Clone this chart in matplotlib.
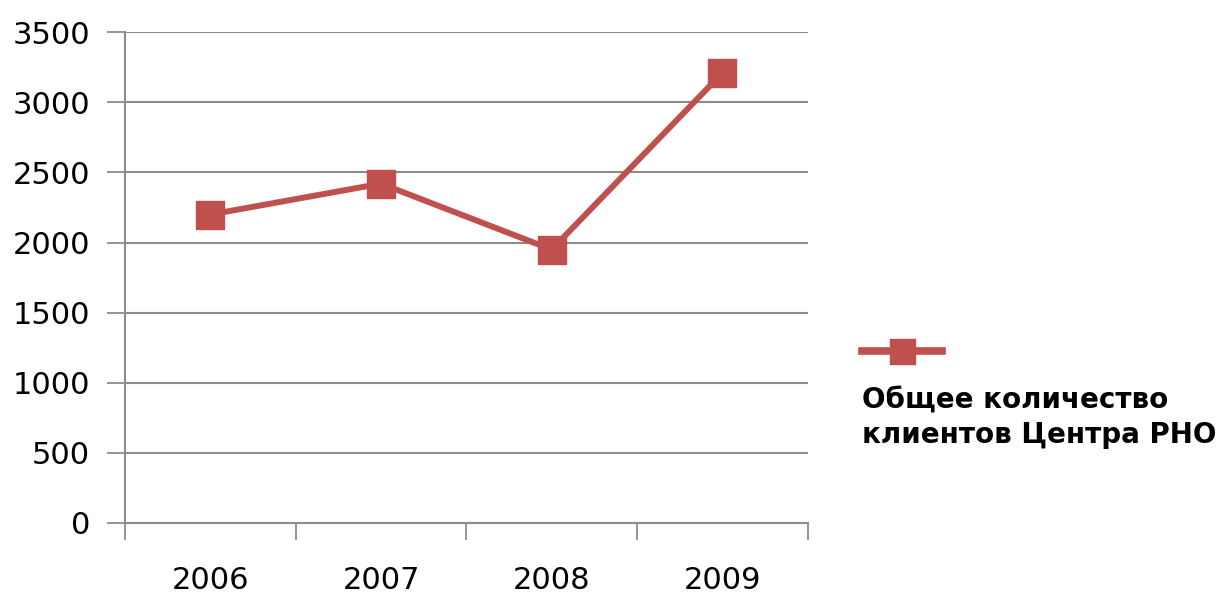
import matplotlib
matplotlib.use("Agg")
import matplotlib.pyplot as plt
from matplotlib.lines import Line2D

years = ["2006", "2007", "2008", "2009"]
clients = [2200, 2420, 1950, 3210]
label = "Общее количество\nклиентов Центра РНО"

color = "#C0504D"
grid_c = "#8c8c8c"

fig = plt.figure(figsize=(12.22, 5.97), dpi=100)
ax = fig.add_axes([0.1023, 0.124, 0.5587, 0.822])

x = list(range(len(years)))
ax.plot(x, clients, color=color, lw=4.3, marker="s", ms=20,
        markeredgecolor=color, markerfacecolor=color, zorder=3)

ax.set_ylim(0, 3500)
ax.set_yticks(range(0, 3501, 500))
ax.set_xlim(-0.5, len(years) - 0.5)

# tick marks on category boundaries, labels in between
ax.set_xticks([i - 0.5 for i in range(len(years) + 1)])
ax.set_xticklabels([])
ax.set_xticks(x, minor=True)
ax.set_xticklabels(years, minor=True)
ax.tick_params(axis="x", which="major", length=12, width=1.3, color=grid_c)
ax.tick_params(axis="x", which="minor", length=0, pad=31, labelsize=22)
ax.tick_params(axis="y", length=13, width=1.3, color=grid_c, pad=12, labelsize=22)

ax.grid(axis="y", color=grid_c, lw=1.5)
ax.set_axisbelow(True)
for s in ["top", "right"]:
    ax.spines[s].set_visible(False)
for s in ["left", "bottom"]:
    ax.spines[s].set_color(grid_c)
    ax.spines[s].set_linewidth(1.5)

handle = Line2D([], [], color=color, lw=5.5, marker="s", ms=18)
fig.legend(handles=[handle], labels=[""], loc="center left",
           bbox_to_anchor=(0.695, 0.41), frameon=False, handlelength=5.8)
fig.text(0.705, 0.352, label, fontsize=20, fontweight="bold",
         va="top", ha="left", linespacing=1.3)

fig.savefig("out.png", dpi=100)
